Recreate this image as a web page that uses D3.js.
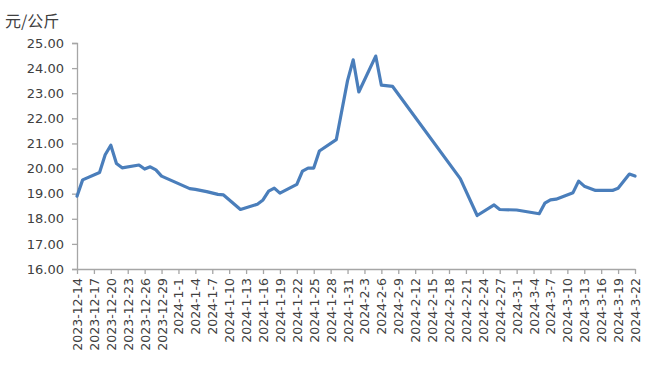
<!DOCTYPE html>
<html><head><meta charset="utf-8">
<script src="https://cdn.jsdelivr.net/npm/d3@7"></script>
<style>body{margin:0;background:#fff}svg{display:block}</style>
</head><body>
<script>
const unitLabel = "元/公斤";
const dates = ["2023-12-14","2023-12-15","2023-12-18","2023-12-19","2023-12-20","2023-12-21","2023-12-22","2023-12-25","2023-12-26","2023-12-27","2023-12-28","2023-12-29","2023-12-31","2024-01-03","2024-01-04","2024-01-06","2024-01-08","2024-01-09","2024-01-12","2024-01-15","2024-01-16","2024-01-17","2024-01-18","2024-01-19","2024-01-22","2024-01-23","2024-01-24","2024-01-25","2024-01-26","2024-01-29","2024-01-31","2024-02-01","2024-02-02","2024-02-05","2024-02-06","2024-02-08","2024-02-20","2024-02-23","2024-02-26","2024-02-27","2024-03-01","2024-03-05","2024-03-06","2024-03-07","2024-03-08","2024-03-11","2024-03-12","2024-03-13","2024-03-15","2024-03-18","2024-03-19","2024-03-21","2024-03-22"];
const prices = [18.9,19.55,19.84,20.55,20.93,20.2,20.03,20.14,19.98,20.07,19.95,19.7,19.5,19.2,19.17,19.08,18.97,18.95,18.37,18.58,18.75,19.1,19.22,19.02,19.37,19.9,20.02,20.02,20.7,21.15,23.5,24.33,23.05,24.48,23.32,23.27,19.6,18.13,18.55,18.37,18.35,18.2,18.62,18.75,18.78,19.04,19.5,19.3,19.13,19.13,19.22,19.78,19.7];
const yTicks = [16,17,18,19,20,21,22,23,24,25];
const axisStart = "2023-12-14", axisEnd = "2024-03-22", tickStepDays = 3;

const W = 665, H = 366;
const parse = d3.timeParse("%Y-%m-%d");
const svg = d3.select("body").append("svg").attr("width", W).attr("height", H);

const x = d3.scaleTime().domain([parse(axisStart), parse(axisEnd)]).range([77, 635]);
const y = d3.scaleLinear().domain([16, 25]).range([269, 43]);

const axisColor = "#a6a6a6", textColor = "#404040";
const tickDates = d3.timeDay.range(parse(axisStart), d3.timeDay.offset(parse(axisEnd), 1), tickStepDays);
const fmt = d => `${d.getFullYear()}-${d.getMonth()+1}-${d.getDate()}`;

// y axis
const ya = svg.append("g").attr("transform", "translate(77,0)")
  .call(d3.axisLeft(y).tickValues(yTicks).tickFormat(d3.format(".2f")).tickSize(5).tickPadding(8));
ya.select(".domain").attr("stroke", axisColor).attr("stroke-width", 1.3);
ya.selectAll(".tick line").attr("stroke", axisColor).attr("stroke-width", 1.3);
ya.selectAll(".tick text").attr("fill", textColor).attr("font-family", "DejaVu Sans").attr("font-size", 13);

// x axis
const xa = svg.append("g").attr("transform", "translate(0,269)")
  .call(d3.axisBottom(x).tickValues(tickDates).tickFormat(fmt).tickSize(5).tickSizeOuter(0));
xa.select(".domain").attr("stroke", axisColor).attr("stroke-width", 1.3);
xa.selectAll(".tick line").attr("stroke", axisColor).attr("stroke-width", 1.3);
xa.selectAll(".tick text")
  .attr("fill", textColor).attr("font-family", "DejaVu Sans").attr("font-size", 12.5)
  .attr("text-anchor", "end").attr("transform", "rotate(-90)")
  .attr("x", -9).attr("y", 0).attr("dy", "0.36em");

// line
const data = dates.map((d, i) => ({date: parse(d), v: prices[i]}));
svg.append("path").datum(data)
  .attr("fill", "none").attr("stroke", "#4a7ebb").attr("stroke-width", 3.2)
  .attr("stroke-linejoin", "round").attr("stroke-linecap", "round")
  .attr("d", d3.line().x(d => x(d.date)).y(d => y(d.v)));

svg.append("text").attr("x", 5).attr("y", 27).text(unitLabel)
  .attr("fill", textColor).attr("font-family", "Noto Sans CJK SC").attr("font-size", 16);
</script>
</body></html>
